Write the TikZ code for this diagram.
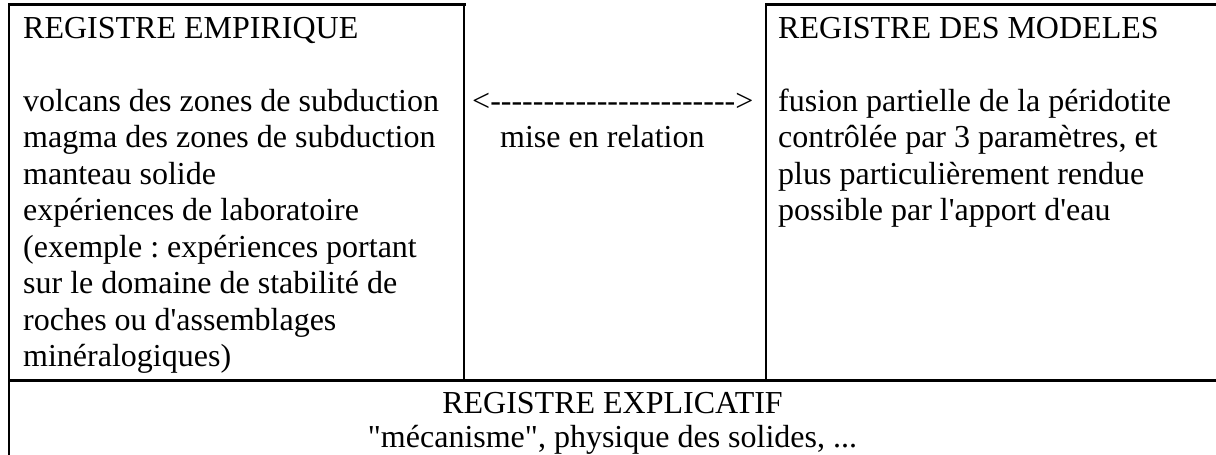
\documentclass[tikz,border=0pt]{standalone}
\usepackage{fontspec}
\newfontfamily\tnr{Liberation Serif}
\frenchspacing
\begin{document}
\begin{tikzpicture}[x=1pt,y=-1pt,
  txt/.style={font=\tnr\fontsize{32}{36.5}\selectfont\frenchspacing, inner sep=0pt, align=left, anchor=base west},
  ctxt/.style={font=\tnr\fontsize{32}{34}\selectfont\frenchspacing, inner sep=0pt, align=center, anchor=base},
  hrule/.style={line width=3pt, line cap=rect},
  vrule/.style={line width=2.4pt}]
\useasboundingbox (0,0) rectangle (1216,455);
% grid coordinates
\coordinate (ltl) at (9,4);
\coordinate (ltr) at (464,4);
\coordinate (rtl) at (766,4);
\coordinate (rtr) at (1216,4);
\coordinate (lml) at (9,380);
\coordinate (lmm) at (464,380);
\coordinate (rmm) at (766,380);
\coordinate (rmr) at (1216,380);
\coordinate (lbot) at (9,456);
% frame
\draw[hrule] (ltl) -- (ltr);
\draw[hrule] (rtl) -- (rtr);
\draw[hrule] (lml) -- (rmr);
\draw[vrule] (ltl) -- (lbot);
\draw[vrule] (ltr) -- (lmm);
\draw[vrule] (rtl) -- (rmm);
% texts (anchored at the baseline of their last line)
\node[txt] (emp) at (23,366.5) {REGISTRE EMPIRIQUE\\[36.5pt]volcans des zones de subduction\\magma des zones de subduction\\manteau solide\\exp\'eriences de laboratoire\\(exemple : exp\'eriences portant\\sur le domaine de stabilit\'e de\\roches ou d'assemblages\\min\'eralogiques)};
\node[txt] (arr) at (472,111) {<----------------------->};
\node[txt] (rel) at (500,147.5) {mise en relation};
\node[txt] (mod) at (778,220.5) {REGISTRE DES MODELES\\[36.5pt]fusion partielle de la p\'eridotite\\contr\^ol\'ee par 3 param\`etres, et\\plus particuli\`erement rendue\\possible par l'apport d'eau};
\node[ctxt] (expl) at (612.5,447) {REGISTRE EXPLICATIF\\"m\'ecanisme", physique des solides, ...};
\end{tikzpicture}
\end{document}
